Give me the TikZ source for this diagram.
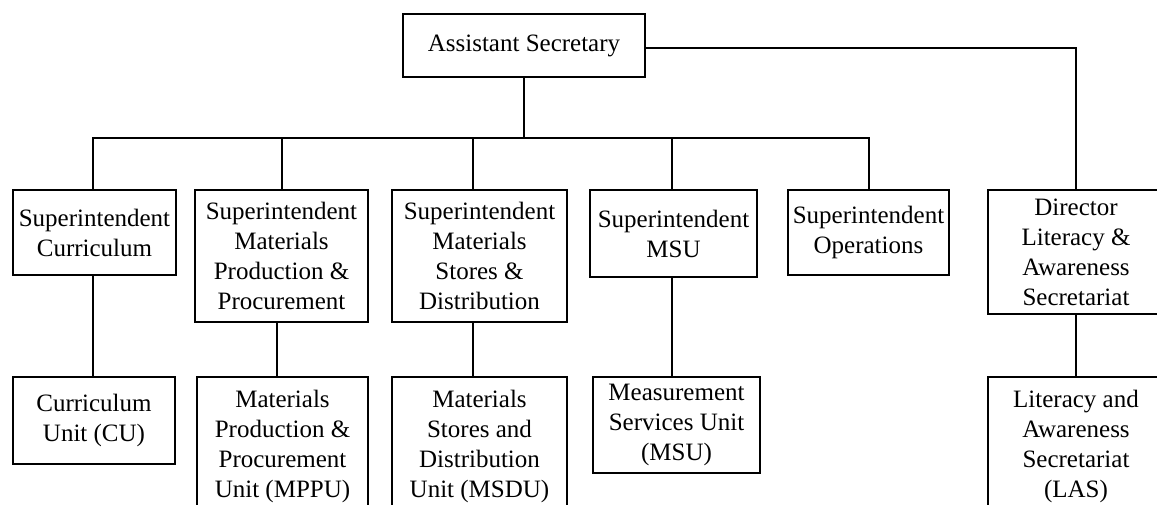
\documentclass[tikz,border=0pt]{standalone}
\usepackage{fontspec}
\setmainfont{Liberation Serif}
\begin{document}
\begin{tikzpicture}[x=1pt,y=-1pt,
  box/.style={draw, line width=1.5pt, align=center, inner sep=0pt,
    font=\fontsize{25}{30}\selectfont},
  link/.style={line width=2pt}]
\useasboundingbox (0,0) rectangle (1157,504);
\clip (0,0) rectangle (1157,504);
\fill[white] (0,0) rectangle (1157,504);
% top
\node[box, minimum width=242pt, minimum height=63pt] (top) at (524,45.5) {Assistant Secretary};
% row 1
\node[box, minimum width=163pt, minimum height=85pt] (cur) at (94.5,232.5) {Superintendent\\Curriculum};
\node[box, minimum width=173pt, minimum height=132pt] (mpp) at (281.5,256) {Superintendent\\Materials\\Production \&\\Procurement};
\node[box, minimum width=175pt, minimum height=132pt] (msd) at (479.5,256) {Superintendent\\Materials\\Stores \&\\Distribution};
\node[box, minimum width=167pt, minimum height=87pt] (msu) at (673.5,233.5) {Superintendent\\MSU};
\node[box, minimum width=161pt, minimum height=85pt] (ops) at (868.5,232.5) {Superintendent\\Operations};
\node[box, minimum width=176pt, minimum height=124pt] (dir) at (1076,252) {Director\\Literacy \&\\Awareness\\Secretariat};
% row 2
\node[box, minimum width=162pt, minimum height=87pt] (cu) at (94,420.5) {Curriculum\\Unit (CU)};
\node[box, minimum width=171pt, minimum height=138pt] (mppu) at (282.5,446) {Materials\\Production \&\\Procurement\\Unit (MPPU)};
\node[box, minimum width=175pt, minimum height=138pt] (msdu) at (479.5,446) {Materials\\Stores and\\Distribution\\Unit (MSDU)};
\node[box, minimum width=167pt, minimum height=96pt] (msuu) at (676.5,425) {Measurement\\Services Unit\\(MSU)};
\node[box, minimum width=176pt, minimum height=138pt] (las) at (1076,446) {Literacy and\\Awareness\\Secretariat\\(LAS)};
% bus
\coordinate (bus) at (0,138);
\draw[link] (top.south) -- (top.south |- bus);
\draw[link] ([xshift=-2pt]cur.north) -- ([xshift=-2pt]cur.north |- bus) -- (ops.north |- bus) -- (ops.north);
\draw[link] (mpp.north) -- (mpp.north |- bus);
\draw[link] ([xshift=-7pt]msd.north) -- ([xshift=-7pt]msd.north |- bus);
\draw[link] ([xshift=-2pt]msu.north) -- ([xshift=-2pt]msu.north |- bus);
\draw[link] ([yshift=-2.5pt]top.east) -| (dir.north);
% lower links
\draw[link] ([xshift=-2pt]cur.south) -- ([xshift=-2pt]cur.south |- cu.north);
\draw[link] ([xshift=-5pt]mpp.south) -- ([xshift=-5pt]mpp.south |- mppu.north);
\draw[link] ([xshift=-7pt]msd.south) -- ([xshift=-7pt]msd.south |- msdu.north);
\draw[link] ([xshift=-2pt]msu.south) -- ([xshift=-2pt]msu.south |- msuu.north);
\draw[link] (dir.south) -- (las.north);
\end{tikzpicture}
\end{document}
